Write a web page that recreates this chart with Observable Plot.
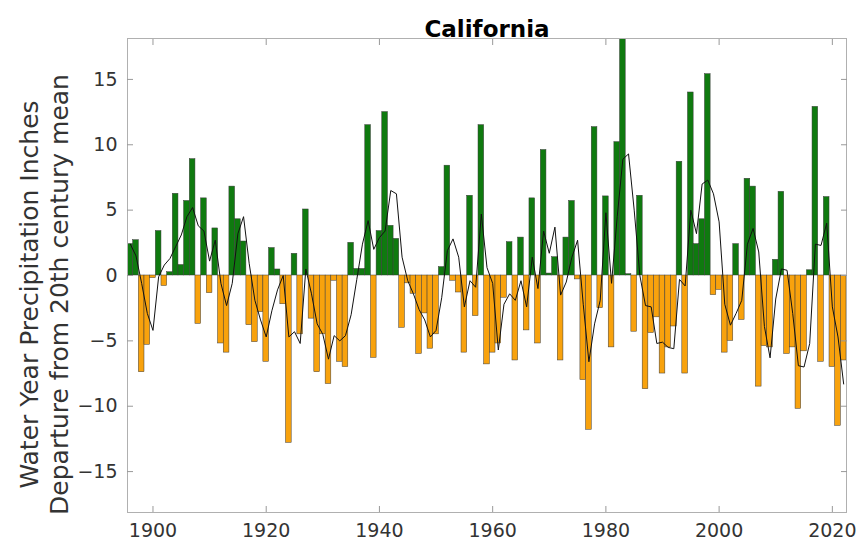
<!DOCTYPE html>
<html><head><meta charset="utf-8">
<script src="https://cdn.jsdelivr.net/npm/d3@7"></script>
<script src="https://cdn.jsdelivr.net/npm/@observablehq/plot@0.6"></script>
<style>body{margin:0;background:#fff} #chart{width:864px;height:550px}</style>
</head><body><div id="chart"></div>
<script>
// Water years 1896–2022
const years = d3.range(1896, 2023);
// Precipitation departure from 20th-century mean (inches)
const departure = [
  2.4, 2.7, -7.4, -5.3, -0.2, 3.4, -0.8, 0.25, 6.25, 0.8,      // 1896-1905
  5.7, 8.9, -3.7, 5.9, -1.35, 3.6, -5.2, -5.9, 6.8, 4.3,       // 1906-1915
  2.6, -3.8, -5.1, -2.8, -6.6, 2.1, 0.46, -2.2, -12.8, 1.66,   // 1916-1925
  -4.5, 5.05, -3.3, -7.4, -4.5, -8.3, -0.4, -6.6, -7.0, 2.5,   // 1926-1935
  0.5, 0.5, 11.5, -6.3, 3.4, 12.5, 3.8, 2.8, -4.0, -0.6,       // 1936-1945
  -1.4, -6.0, -2.9, -5.6, -4.5, 0.64, 8.4, -0.4, -1.3, -5.9,   // 1946-1955
  6.1, -3.1, 11.5, -6.8, -5.9, -5.2, -1.7, 2.55, -6.5, 2.9,    // 1956-1965
  -4.2, 5.9, -5.2, 9.6, 0.15, 1.4, -6.5, 2.9, 5.7, -0.3,       // 1966-1975
  -8.0, -11.8, 11.35, -2.5, 6.05, -5.5, 10.2, 18.6, 0.1, -4.3, // 1976-1985
  6.1, -8.7, -4.4, -3.2, -7.5, -5.5, -3.9, 8.7, -7.5, 14.0,    // 1986-1995
  2.4, 4.3, 15.4, -1.5, -1.1, -5.9, -5.0, 2.4, -3.4, 7.4,      // 1996-2005
  6.8, -8.5, -5.4, -5.5, 1.2, 6.4, -6.0, -5.5, -10.2, -5.8,    // 2006-2015
  0.4, 12.9, -6.6, 6.0, -7.0, -11.5, -6.5                      // 2016-2022
];
// Smoothed curve (black line)
const smoothed = [
  2.4, 1.5, -0.6, -2.9, -4.2, -0.1, 0.8, 1.3, 2.2, 3.1,
  4.5, 5.2, 3.8, 3.4, 1.1, 2.7, -0.6, -2.3, -0.6, 3.2,
  4.5, 0.9, -1.9, -3.4, -4.7, -2.7, -1.1, 0.0, -4.7, -4.3,
  -5.2, 0.5, -1.4, -3.7, -4.5, -6.4, -4.6, -5.0, -4.6, -3.0,
  -0.3, 2.4, 4.2, 2.0, 2.9, 3.4, 6.5, 6.25, 1.4, -0.4,
  -1.4, -2.6, -3.4, -4.7, -4.2, -1.7, 1.9, 2.8, 1.4, -2.4,
  -0.4, -0.9, 4.7, 0.6, -0.6, -5.7, -2.2, -1.4, -1.9, -0.4,
  -2.4, 1.4, -1.0, 3.4, 1.7, 3.7, -1.5, -0.5, 1.4, 2.7,
  -2.2, -6.6, -3.7, -1.9, 4.8, -0.6, 4.5, 8.9, 9.3, 5.0,
  0.0, -2.3, -2.4, -5.2, -5.1, -5.5, -5.6, -0.3, -0.8, 5.0,
  3.2, 7.0, 7.3, 6.25, 4.1, -2.2, -3.8, -2.9, -1.9, 2.4,
  3.6, 1.8, -3.9, -6.3, -1.8, 0.5, 0.4, -2.9, -6.9, -7.0,
  -5.2, 2.4, 2.3, 4.0, -2.4, -4.7, -8.3
];
const xTicks = [1900, 1920, 1940, 1960, 1980, 2000, 2020];
const yTicks = [-15, -10, -5, 0, 5, 10, 15];
const title = "California";
const yLabel = "Water Year Precipitation Inches\nDeparture from 20th century mean";

const green = "#0f7a0f";
const orange = "#f8a20d";

const rows = years.map((year, i) => ({year, value: departure[i], smooth: smoothed[i]}));

const chart = Plot.plot({
  width: 864,
  height: 550,
  marginTop: 38,
  marginBottom: 38,
  marginLeft: 127,
  marginRight: 18,
  style: {fontFamily: "DejaVu Sans, sans-serif", fontSize: "19px", color: "#333", background: "#fff"},
  x: {domain: [1895.5, 2022.5]},
  y: {domain: [-18.13, 18.13]},
  marks: [
    Plot.rectY(rows, {
      x1: d => d.year - 0.5, x2: d => d.year + 0.5, y1: 0, y2: "value",
      fill: d => d.value >= 0 ? green : orange,
      stroke: "#3a3a3a", strokeWidth: 0.5, clip: true
    }),
    Plot.lineY(rows, {x: "year", y: "smooth", stroke: "#111", strokeWidth: 1}),
    Plot.frame({stroke: "#b0b0b0"}),
    Plot.axisY(yTicks, {anchor: "left", tickSize: -6, tickPadding: 16, label: null, stroke: "#999"}),
    Plot.axisY(yTicks, {anchor: "right", tickSize: -6, tickFormat: () => "", label: null, stroke: "#999"}),
    Plot.axisX(xTicks, {anchor: "bottom", tickSize: -6, tickPadding: 17, tickFormat: d => String(d), label: null, stroke: "#999"}),
    Plot.axisX(xTicks, {anchor: "top", tickSize: -6, tickFormat: () => "", label: null, stroke: "#999"}),
    Plot.text([title], {frameAnchor: "top", dy: -18, fontSize: 23, fontWeight: "bold", fill: "#000"}),
    Plot.text([yLabel], {frameAnchor: "left", textAnchor: "middle", lineAnchor: "middle", rotate: -90, dx: -84, dy: 19, fontSize: 25, lineHeight: 1.2, fill: "#333"})
  ]
});
document.getElementById("chart").appendChild(chart);
</script>
</body></html>
